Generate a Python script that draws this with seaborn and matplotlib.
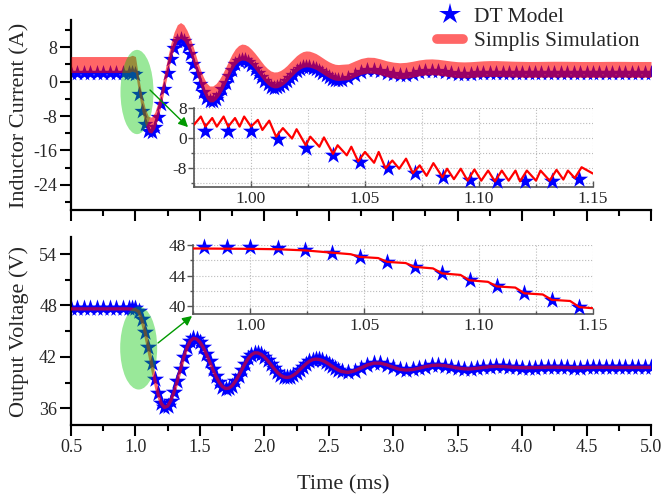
import numpy as np
import pandas as pd
import matplotlib
matplotlib.use("Agg")
import matplotlib.pyplot as plt
import seaborn as sns
from matplotlib.patches import Ellipse
from matplotlib.lines import Line2D
from matplotlib.ticker import MultipleLocator, FormatStrFormatter

sns.set_theme(style="ticks")
plt.rcParams["font.family"] = ["Liberation Serif", "DejaVu Serif"]
plt.rcParams["axes.unicode_minus"] = False

# ---------------- time base (ms) ----------------
t_pre = np.round(np.arange(0.50, 0.951, 0.05), 3)      # 10 samples
t_fast = np.round(np.arange(0.975, 2.6001, 0.025), 3)  # 66 samples
t_slow = np.round(np.arange(2.65, 5.0001, 0.05), 3)    # 48 samples
time_ms = np.concatenate([t_pre, t_fast, t_slow])

# ---------------- inductor current (A) ----------------
i_dt = [
    2.0, 2.0, 2.0, 2.0, 2.0, 2.0, 2.0, 2.0, 2.0, 2.0,
    # 0.975 .. 2.600
    2.0, 1.9, -2.9, -6.8, -9.8, -11.4, -11.65, -10.5, -8.2, -5.2,
    -1.6, 2.0, 5.3, 7.9, 9.5, 10.0, 9.5, 8.2, 6.4, 4.2,
    1.8, -0.5, -2.4, -3.9, -4.6, -4.6, -4.05, -3.1, -1.8, -0.25,
    1.3, 2.8, 4.0, 4.75, 5.1, 5.0, 4.6, 3.9, 3.05, 2.1,
    1.1, 0.15, -0.6, -1.15, -1.4, -1.35, -1.05, -0.55, 0.1, 0.9,
    1.65, 2.4, 2.95, 3.35, 3.5, 3.45, 3.2, 2.9, 2.45, 1.95,
    1.45, 1.0, 0.65, 0.4, 0.33, 0.4,
    # 2.65 .. 5.00
    0.85, 1.6, 2.3, 2.7, 2.7, 2.4, 2.0, 1.7, 1.56, 1.65,
    1.9, 2.2, 2.45, 2.5, 2.4, 2.2, 2.0, 1.85, 1.8, 1.85,
    1.95, 2.05, 2.1, 2.1, 2.05, 2.0, 1.97, 1.95,
    1.95, 1.95, 1.97, 1.99, 2.0, 2.0, 1.99, 1.97, 1.95, 1.95,
    1.95, 1.95, 1.97, 1.98, 1.98, 1.97, 1.95, 1.95, 1.95, 1.95,
]
i_sim = [
    4.0, 4.0, 4.0, 4.0, 4.0, 4.0, 4.0, 4.0, 4.0, 4.0,
    4.3, 4.0, -0.8, -5.0, -8.0, -9.9, -10.1, -9.0, -6.6, -3.5,
    0.2, 3.8, 7.1, 9.7, 11.4, 11.9, 11.4, 10.1, 8.3, 6.1,
    3.6, 1.3, -0.6, -2.1, -2.85, -2.85, -2.3, -1.35, -0.05, 1.5,
    3.1, 4.6, 5.8, 6.55, 6.9, 6.8, 6.4, 5.7, 4.85, 3.9,
    2.9, 1.95, 1.2, 0.65, 0.4, 0.45, 0.75, 1.25, 1.9, 2.7,
    3.45, 4.2, 4.75, 5.15, 5.3, 5.25, 5.0, 4.7, 4.25, 3.75,
    3.25, 2.8, 2.45, 2.2, 2.13, 2.2,
    2.3, 2.95, 3.55, 3.85, 3.8, 3.45, 3.0, 2.7, 2.55, 2.65,
    2.9, 3.2, 3.4, 3.45, 3.35, 3.15, 2.95, 2.8, 2.75, 2.8,
    2.9, 3.0, 3.05, 3.05, 3.0, 2.95, 2.9, 2.88,
    2.85, 2.85, 2.87, 2.89, 2.9, 2.9, 2.89, 2.87, 2.85, 2.85,
    2.85, 2.85, 2.87, 2.88, 2.88, 2.87, 2.85, 2.85, 2.85, 2.85,
]
simplis_ripple_pp = 3.7  # switching ripple of the simulated current (A, peak-to-peak)

# ---------------- output voltage (V) ----------------
v_dt = [
    47.7, 47.7, 47.7, 47.7, 47.7, 47.7, 47.7, 47.7, 47.7, 47.7,
    47.7, 47.7, 47.32, 46.37, 44.96, 43.18, 41.34, 39.4, 37.75, 36.6,
    36.12, 36.27, 36.91, 37.93, 39.22, 40.63, 41.98, 43.1, 43.87, 44.19,
    44.1, 43.74, 43.14, 42.35, 41.47, 40.56, 39.72, 39.03, 38.54, 38.31,
    38.36, 38.64, 39.14, 39.78, 40.5, 41.21, 41.82, 42.26, 42.48, 42.47,
    42.3, 42.0, 41.59, 41.13, 40.65, 40.22, 39.88, 39.67, 39.6, 39.67,
    39.87, 40.15, 40.51, 40.87, 41.22, 41.5, 41.69, 41.75, 41.71, 41.59,
    41.41, 41.18, 40.92, 40.68, 40.46, 40.3,
    40.2, 40.38, 40.71, 41.07, 41.28, 41.27, 41.08, 40.8, 40.56, 40.47,
    40.53, 40.68, 40.87, 41.01, 41.05, 40.98, 40.85, 40.71, 40.62, 40.6,
    40.68, 40.78, 40.86, 40.9, 40.88, 40.83, 40.78, 40.75,
    40.75, 40.76, 40.78, 40.8, 40.8, 40.79, 40.77, 40.76, 40.76, 40.77,
    40.78, 40.79, 40.79, 40.78, 40.77, 40.77, 40.78, 40.78, 40.78, 40.78,
]
v_sim = [
    47.6, 47.6, 47.6, 47.6, 47.6, 47.6, 47.6, 47.6, 47.6, 47.6,
    47.55, 47.5, 47.28, 46.3, 44.9, 43.1, 41.25, 39.35, 37.7, 36.58,
    36.1, 36.26, 36.9, 37.92, 39.2, 40.6, 41.95, 43.07, 43.85, 44.17,
    44.08, 43.72, 43.12, 42.33, 41.45, 40.55, 39.71, 39.02, 38.53, 38.3,
    38.35, 38.63, 39.13, 39.77, 40.49, 41.2, 41.81, 42.25, 42.47, 42.46,
    42.29, 41.99, 41.58, 41.12, 40.64, 40.21, 39.87, 39.66, 39.59, 39.66,
    39.86, 40.14, 40.5, 40.86, 41.21, 41.49, 41.68, 41.74, 41.7, 41.58,
    41.4, 41.17, 40.91, 40.67, 40.45, 40.29,
    40.19, 40.37, 40.7, 41.06, 41.27, 41.26, 41.07, 40.79, 40.55, 40.46,
    40.52, 40.67, 40.86, 41.0, 41.04, 40.97, 40.84, 40.7, 40.61, 40.59,
    40.67, 40.77, 40.85, 40.89, 40.87, 40.82, 40.77, 40.74,
    40.74, 40.75, 40.77, 40.79, 40.79, 40.78, 40.76, 40.75, 40.75, 40.76,
    40.77, 40.78, 40.78, 40.77, 40.76, 40.76, 40.77, 40.77, 40.77, 40.77,
]

# ---------------- zoomed windows (first switching cycles after the step) ----------------
zoom_t_dt = [0.980, 0.990, 1.000, 1.012, 1.024, 1.036, 1.048, 1.060,
             1.072, 1.084, 1.096, 1.108, 1.120, 1.132, 1.144]
zoom_i_dt = [1.9, 1.9, 1.9, -0.45, -2.7, -4.7, -6.5, -8.15,
             -9.5, -10.6, -11.25, -11.7, -11.7, -11.5, -10.95]
zoom_v_dt = [47.7, 47.7, 47.7, 47.57, 47.35, 47.0, 46.48, 45.82,
             45.17, 44.31, 43.44, 42.66, 41.7, 40.83, 39.88]

zoom_t_isim = [0.975, 0.978, 0.980, 0.983, 0.985, 0.988, 0.990, 0.993, 0.995, 0.997,
               1.000, 1.003, 1.005, 1.008, 1.011, 1.014, 1.018, 1.020, 1.024, 1.026,
               1.030, 1.032, 1.036, 1.038, 1.042, 1.044, 1.047, 1.050, 1.054, 1.056,
               1.059, 1.062, 1.065, 1.068, 1.071, 1.074, 1.077, 1.080, 1.084, 1.086,
               1.089, 1.092, 1.095, 1.098, 1.101, 1.104, 1.107, 1.110, 1.113, 1.116,
               1.118, 1.121, 1.125, 1.127, 1.131, 1.134, 1.137, 1.139, 1.142, 1.145,
               1.150]
zoom_i_sim = [3.5, 5.7, 3.0, 5.3, 3.0, 5.7, 3.0, 5.3, 3.0, 5.7,
              3.0, 4.8, 2.1, 4.6, 0.3, 2.6, -0.2, 2.3, -2.0, 0.3,
              -2.4, 0.1, -4.3, -2.0, -4.7, -2.4, -6.3, -3.8, -6.7, -3.8,
              -8.2, -6.1, -8.3, -5.6, -9.5, -7.4, -10.2, -6.8, -10.6, -8.3,
              -11.1, -8.3, -11.5, -8.5, -11.5, -8.8, -11.7, -8.8, -11.5, -8.8,
              -11.7, -8.8, -11.5, -8.8, -11.5, -8.6, -11.2, -8.8, -10.8, -7.9,
              -9.6]

zoom_t_vsim = [0.975, 1.000, 1.012, 1.024, 1.036, 1.044, 1.048, 1.056, 1.060, 1.068,
               1.072, 1.080, 1.084, 1.092, 1.096, 1.104, 1.108, 1.116, 1.120, 1.128,
               1.132, 1.140, 1.144, 1.150]
zoom_v_sim = [47.55, 47.5, 47.45, 47.3, 47.0, 46.8, 46.45, 46.3, 45.8, 45.65,
              45.15, 44.95, 44.3, 44.1, 43.4, 43.2, 42.6, 42.45, 41.7, 41.55,
              40.85, 40.7, 39.9, 39.75]

series_labels = ["DT Model", "Simplis Simulation"]

df = pd.DataFrame({"t": time_ms, "i_dt": i_dt, "i_sim": i_sim,
                   "v_dt": v_dt, "v_sim": v_sim})

STAR_BLUE = "#0000FF"
SIM_RED = (1.0, 0.0, 0.0, 0.6)
HILITE = (0.0, 0.78, 0.0)
ARROW_GREEN = "#009900"

fig = plt.figure(figsize=(6.63, 4.96), dpi=100)
ax_i = fig.add_axes([0.1071, 0.5766, 0.8748, 0.3831])
ax_v = fig.add_axes([0.1071, 0.1431, 0.8748, 0.3790])

# ---- inductor current panel ----
sns.scatterplot(data=df, x="t", y="i_dt", marker="*", s=150, color=STAR_BLUE,
                linewidth=0, ax=ax_i, zorder=2, legend=False)
half = simplis_ripple_pp / 2
ax_i.fill_between(df["t"], df["i_sim"] - half, df["i_sim"] + half,
                  color=SIM_RED, linewidth=0, zorder=3)
ax_i.add_patch(Ellipse((1.012, -2.4), width=0.256, height=19.6,
                       facecolor=HILITE, alpha=0.4, edgecolor="none", zorder=4))
ax_i.annotate("", xy=(1.408, -10.57), xytext=(1.113, -1.94),
              arrowprops=dict(arrowstyle="-|>", color=ARROW_GREEN, lw=1.0,
                              mutation_scale=14, shrinkA=0, shrinkB=0), zorder=5)
ax_i.set_xlim(0.5, 5.0)
ax_i.set_ylim(-29.85, 14.35)
ax_i.yaxis.set_major_locator(MultipleLocator(8))
ax_i.yaxis.set_minor_locator(MultipleLocator(4))
ax_i.tick_params(axis="x", labelbottom=False)
ax_i.set_xlabel("")
ax_i.set_ylabel("Inductor Current (A)", fontsize=16)

# ---- output voltage panel ----
sns.scatterplot(data=df, x="t", y="v_dt", marker="*", s=170, color=STAR_BLUE,
                linewidth=0, ax=ax_v, zorder=2, legend=False)
sns.lineplot(data=df, x="t", y="v_sim", color="red", alpha=0.6, lw=2.4,
             estimator=None, ax=ax_v, zorder=3)
ax_v.add_patch(Ellipse((1.025, 43.04), width=0.287, height=9.7,
                       facecolor=HILITE, alpha=0.4, edgecolor="none", zorder=4))
ax_v.annotate("", xy=(1.439, 46.77), xytext=(1.175, 43.62),
              arrowprops=dict(arrowstyle="-|>", color=ARROW_GREEN, lw=1.0,
                              mutation_scale=14, shrinkA=0, shrinkB=0), zorder=5)
ax_v.set_xlim(0.5, 5.0)
ax_v.set_ylim(34.05, 55.98)
ax_v.yaxis.set_major_locator(MultipleLocator(6))
ax_v.yaxis.set_minor_locator(MultipleLocator(3))
ax_v.xaxis.set_major_formatter(FormatStrFormatter("%.1f"))
ax_v.set_ylabel("Output Voltage (V)", fontsize=16)
ax_v.set_xlabel("Time (ms)", fontsize=16)

for ax in (ax_i, ax_v):
    ax.xaxis.set_major_locator(MultipleLocator(0.5))
    ax.xaxis.set_minor_locator(MultipleLocator(0.25))
    for side in ("top", "right"):
        ax.spines[side].set_visible(False)
    for side in ("left", "bottom"):
        ax.spines[side].set_linewidth(1.6)
        ax.spines[side].set_color("black")
    ax.tick_params(which="major", direction="out", length=8, width=1.5,
                   labelsize=13, color="black", pad=2)
    ax.tick_params(which="minor", direction="out", length=4.5, width=1.5,
                   color="black")
    ax.yaxis.set_label_coords(-0.072, 0.5)
    ax.grid(False)
ax_v.xaxis.set_label_coords(0.469, -0.265)

# ---- zoomed insets ----
in_i = fig.add_axes([0.2926, 0.623, 0.6018, 0.1593])
sns.scatterplot(x=zoom_t_dt, y=zoom_i_dt, marker="*", s=170, color=STAR_BLUE,
                linewidth=0, ax=in_i, zorder=3, clip_on=False)
sns.lineplot(x=zoom_t_isim, y=zoom_i_sim, color="red", lw=1.6, estimator=None,
             sort=False, ax=in_i, zorder=4)
in_i.set_ylim(-13.2, 8.0)
in_i.yaxis.set_major_locator(MultipleLocator(8))
in_i.yaxis.set_minor_locator(MultipleLocator(4))

in_v = fig.add_axes([0.2911, 0.3669, 0.6033, 0.1391])
sns.scatterplot(x=zoom_t_dt, y=zoom_v_dt, marker="*", s=170, color=STAR_BLUE,
                linewidth=0, ax=in_v, zorder=3, clip_on=False)
sns.lineplot(x=zoom_t_vsim, y=zoom_v_sim, color="red", lw=1.6, estimator=None,
             sort=False, ax=in_v, zorder=4)
in_v.set_ylim(39.0, 48.0)
in_v.yaxis.set_major_locator(MultipleLocator(4))
in_v.yaxis.set_minor_locator(MultipleLocator(2))

for ax in (in_i, in_v):
    ax.set_xlim(0.975, 1.15)
    ax.xaxis.set_major_locator(MultipleLocator(0.05))
    ax.xaxis.set_minor_locator(MultipleLocator(0.025))
    ax.xaxis.set_major_formatter(FormatStrFormatter("%.2f"))
    ax.set_facecolor("white")
    for side in ("top", "right"):
        ax.spines[side].set_visible(False)
    for side in ("left", "bottom"):
        ax.spines[side].set_linewidth(1.2)
        ax.spines[side].set_color("#555555")
    ax.grid(True, which="both", linestyle=":", color="#BBBBBB", linewidth=0.8)
    ax.set_axisbelow(True)
    ax.tick_params(which="major", axis="y", direction="out", length=4, width=1,
                   color="#555555", labelsize=12.5, pad=1)
    ax.tick_params(which="minor", axis="y", direction="out", length=2.5, width=1,
                   color="#555555")
    ax.tick_params(which="major", axis="x", direction="in", length=4, width=1,
                   color="#555555", labelsize=12.5, pad=3)
    ax.tick_params(which="minor", axis="x", direction="in", length=2.5, width=1,
                   color="#555555")
    ax.set_xlabel("")
    ax.set_ylabel("")

# ---- legend ----
handles = [
    Line2D([], [], marker="*", color=STAR_BLUE, linestyle="none", markersize=16,
           markeredgewidth=0),
    Line2D([], [], color=SIM_RED, lw=7, solid_capstyle="round"),
]
fig.legend(handles, series_labels, loc="upper left", bbox_to_anchor=(0.659, 0.987),
           frameon=False, fontsize=15.5, handlelength=1.2, handletextpad=0.5,
           labelspacing=0.22, borderpad=0, borderaxespad=0)

fig.savefig("out.png", dpi=100)
